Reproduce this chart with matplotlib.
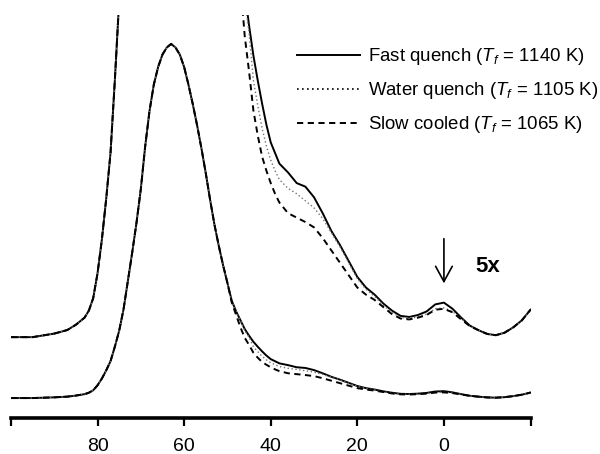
import matplotlib
matplotlib.use("Agg")
import matplotlib.pyplot as plt
from matplotlib.lines import Line2D

plt.rcParams['font.family'] = ['Liberation Sans', 'DejaVu Sans']
plt.rcParams['mathtext.fontset'] = 'custom'
plt.rcParams['mathtext.rm'] = 'Liberation Sans'
plt.rcParams['mathtext.it'] = 'Liberation Sans:italic'

# chemical shift (ppm)
ppm = [100, 95, 90, 87, 85, 83, 82, 81, 80, 79, 78, 77, 76, 75, 74, 73, 72, 71, 70,
       69, 68, 67, 66, 65, 64, 63, 62, 61, 60, 59, 58, 57, 56, 55, 54, 53, 52, 51,
       50, 49, 48, 47, 46, 45, 44, 43, 42, 41, 40, 39, 38, 36, 34, 32, 30, 28, 26,
       24, 22, 20, 18, 16, 14, 12, 10, 8, 6, 4, 2, 0, -2, -4, -6, -8, -10, -12,
       -14, -16, -18, -20]

fast_quench = [0.0, 0.0, 0.002, 0.004, 0.007, 0.011, 0.015, 0.022, 0.036, 0.055, 0.078,
               0.104, 0.145, 0.19, 0.25, 0.33, 0.41, 0.495, 0.59, 0.71, 0.81, 0.885,
               0.935, 0.97, 0.99, 1.0, 0.99, 0.97, 0.935, 0.885, 0.83, 0.77, 0.705,
               0.635, 0.56, 0.49, 0.43, 0.375, 0.325, 0.275, 0.245, 0.22, 0.195,
               0.176, 0.159, 0.145, 0.132, 0.120, 0.110, 0.104, 0.098, 0.093, 0.087,
               0.085, 0.079, 0.070, 0.060, 0.052, 0.043, 0.034, 0.028, 0.024, 0.019,
               0.015, 0.012, 0.0114, 0.0125, 0.0145, 0.0185, 0.0195, 0.016, 0.011,
               0.0065, 0.0039, 0.0018, 0.0011, 0.0025, 0.0055, 0.0095, 0.0155]

water_quench = [0.0, 0.0, 0.002, 0.004, 0.007, 0.011, 0.015, 0.022, 0.036, 0.055, 0.078,
                0.104, 0.145, 0.19, 0.25, 0.33, 0.41, 0.495, 0.59, 0.71, 0.81, 0.885,
                0.935, 0.97, 0.99, 1.0, 0.99, 0.97, 0.935, 0.885, 0.83, 0.77, 0.705,
                0.635, 0.56, 0.49, 0.43, 0.375, 0.325, 0.275, 0.245, 0.22, 0.19,
                0.172, 0.145, 0.131, 0.118, 0.108, 0.100, 0.094, 0.089, 0.084, 0.081,
                0.077, 0.073, 0.067, 0.059, 0.051, 0.042, 0.033, 0.027, 0.023, 0.018,
                0.014, 0.011, 0.0105, 0.0115, 0.013, 0.016, 0.0165, 0.0145, 0.0105,
                0.0063, 0.0039, 0.0018, 0.0011, 0.0025, 0.0055, 0.0095, 0.0155]

slow_cooled = [0.0, 0.0, 0.002, 0.004, 0.007, 0.011, 0.015, 0.022, 0.036, 0.055, 0.078,
               0.104, 0.145, 0.19, 0.25, 0.33, 0.41, 0.495, 0.59, 0.71, 0.81, 0.885,
               0.935, 0.97, 0.99, 1.0, 0.99, 0.97, 0.935, 0.885, 0.83, 0.77, 0.705,
               0.635, 0.56, 0.49, 0.43, 0.375, 0.325, 0.27, 0.235, 0.20, 0.170,
               0.150, 0.128, 0.114, 0.102, 0.094, 0.087, 0.081, 0.076, 0.070, 0.0675,
               0.065, 0.062, 0.056, 0.049, 0.042, 0.035, 0.028, 0.024, 0.021, 0.017,
               0.013, 0.0105, 0.0100, 0.011, 0.0125, 0.0155, 0.016, 0.014, 0.010,
               0.0062, 0.0039, 0.0018, 0.0011, 0.0025, 0.0055, 0.0095, 0.0155]

labels = ["Fast quench ($T_f$ = 1140 K)",
          "Water quench ($T_f$ = 1105 K)",
          "Slow cooled ($T_f$ = 1065 K)"]
tick_values = [100, 80, 60, 40, 20, 0, -20]
tick_labels = ["", "80", "60", "40", "20", "0", ""]

expansion = 5
expansion_offset = 0.172

fig = plt.figure(figsize=(6.0, 4.54), dpi=100)
ax = fig.add_axes([0.0182, 0.0793, 0.8660, 0.8877])

styles = [dict(color="black", lw=1.4, ls="-"),
          dict(color="0.45", lw=1.0, ls=(0, (1, 1.8))),
          dict(color="black", lw=1.4, ls=(0, (3.2, 2.3)))]
series = [fast_quench, water_quench, slow_cooled]

for ys, st in zip(series, styles):
    ax.plot(ppm, ys, **st)
    ax.plot(ppm, [expansion * v + expansion_offset for v in ys], **st)

ax.set_xlim(100, -20)
ax.set_ylim(-0.0563, 1.0817)

for s in ["left", "right", "top"]:
    ax.spines[s].set_visible(False)
ax.spines["bottom"].set_linewidth(2.6)
ax.set_yticks([])
ax.set_xticks(tick_values)
ax.set_xticklabels(tick_labels)
ax.tick_params(axis="x", direction="out", length=5.5, width=1.6, pad=9, labelsize=14)

handles = [Line2D([], [], color="black", lw=1.4, ls="-"),
           Line2D([], [], color="black", lw=1.2, ls=(0, (1, 2))),
           Line2D([], [], color="black", lw=1.4, ls=(0, (3.2, 2.3)))]
leg = ax.legend(handles, labels, loc="upper left", bbox_to_anchor=(0.551, 0.922),
                frameon=False, fontsize=13.4, handlelength=3.35, handletextpad=0.43,
                labelspacing=0.7, borderpad=0, borderaxespad=0)

ax.annotate("", xy=(0, 0.324), xytext=(0, 0.45),
            arrowprops=dict(arrowstyle="->,head_length=0.55,head_width=0.3",
                            lw=1.2, color="black", shrinkA=0, shrinkB=0,
                            mutation_scale=20))
ax.text(-10.2, 0.372, "5x", fontsize=16, fontweight="bold", ha="center", va="center")

fig.savefig("out.png", dpi=100)
